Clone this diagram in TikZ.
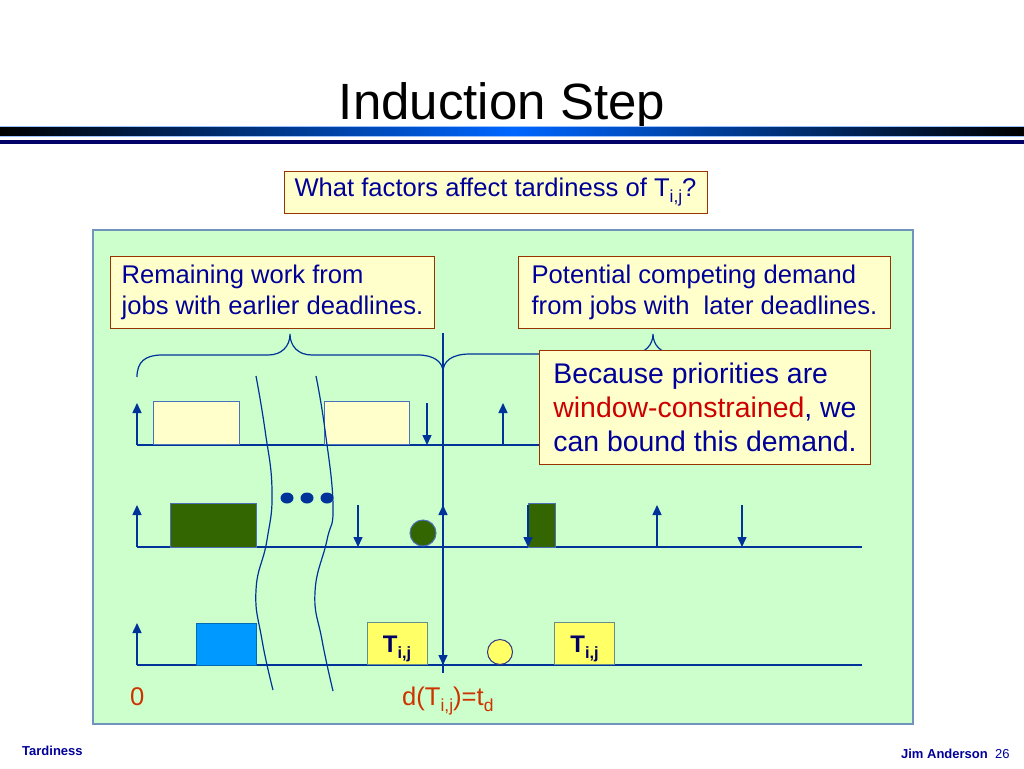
\documentclass[tikz,border=0pt]{standalone}
\usepackage{fontspec}
\setmainfont{Liberation Sans}
\usepackage{graphicx}
\usetikzlibrary{arrows.meta}

\definecolor{panelgreen}{HTML}{CCFFCC}
\definecolor{paneledge}{HTML}{7393BF}
\definecolor{notefill}{HTML}{FFFFCC}
\definecolor{noteedge}{HTML}{993300}
\definecolor{lineblue}{HTML}{003399}
\definecolor{textblue}{HTML}{000099}
\definecolor{textred}{HTML}{CC0000}
\definecolor{labelred}{HTML}{CC3300}
\definecolor{jobgreen}{HTML}{336600}
\definecolor{jobblue}{HTML}{0099FF}
\definecolor{jobyellow}{HTML}{FFFF66}
\definecolor{barblue}{HTML}{0066FF}
\definecolor{barnavy}{HTML}{000066}

\newcommand\sbs[1]{\raisebox{-.25em}{\scalebox{.68}{#1}}}

\begin{document}
\begin{tikzpicture}[x=1pt,y=-1pt,
  note/.style={draw=noteedge,fill=notefill,line width=1pt,text=textblue,align=left,
    inner xsep=11pt,inner ysep=0pt,anchor=north west,font=\fontsize{25.6}{30.7}\selectfont},
  axis/.style={draw=lineblue,line width=1.5pt},
  arr/.style={draw=lineblue,line width=1.5pt,-{Triangle[width=9pt,length=10pt]}},
  wave/.style={draw=lineblue,line width=1.2pt},
  tbox/.style={draw=black!50!teal!60,fill=jobyellow,line width=1pt,anchor=south,
    minimum width=60pt,minimum height=42pt,inner sep=0pt,text=barnavy,
    text height=18pt,text depth=0pt,font=\fontsize{24}{28}\selectfont\bfseries},
  label/.style={text=labelred,inner sep=0pt,anchor=base west,font=\fontsize{25.6}{30}\selectfont}]
\useasboundingbox (0,0) rectangle (1024,768);
\fill[white] (0,0) rectangle (1024,768);

% title
\node[anchor=base,inner sep=0pt,font=\fontsize{51}{60}\selectfont] (title) at (502,119) {Induction Step};
\shade[left color=black,right color=black,middle color=barblue] (0,126.5) rectangle (1024,136);
\path[draw,barblue!40,line width=0.7pt] (0,126.5) -- (1024,126.5);
\path[draw,barblue!40,line width=0.7pt] (0,136) -- (1024,136);
\fill[barnavy] (0,140) rectangle (1024,144.3);

\node[note,anchor=center,align=center,inner sep=0pt,minimum width=423pt,minimum height=42pt]
  (question) at (495.5,192) {What factors affect tardiness of T\sbs{i,j}?};

% panel
\draw[fill=panelgreen,draw=paneledge,line width=2pt] (93,230) rectangle (913,724);

\node[note,minimum width=324pt,minimum height=72pt] (earlier) at (110,256)
  {Remaining work from\\jobs with earlier deadlines.};
\node[note,minimum width=372pt,minimum height=72pt] (later) at (518,256)
  {Potential competing demand\\from jobs with\ \ later deadlines.};

% braces
\draw[wave] (137,377) .. controls (137,362) and (145,355) .. (162,355) -- (268,355)
  .. controls (282,355) and (290,346) .. (290,334) .. controls (290,346) and (298,355) .. (312,355)
  -- (418,355) .. controls (434,355) and (443,362) .. (443,372);
\draw[wave] (443,372) .. controls (443,361) and (452,354) .. (470,354) -- (631,354)
  .. controls (645,354) and (653,345) .. (653,334) .. controls (653,345) and (661,354) .. (675,354)
  -- (836,354) .. controls (854,354) and (863,361) .. (863,372);

% deadline of T_ij
\path[draw,axis] (443,333) -- (443,673);

\newcommand\jobrelease[2]{ \draw[arr] (#1,#2) -- (#1,#2-42); }
\newcommand\jobdeadline[2]{ \draw[arr] (#1,#2-42) -- (#1,#2); }

% top row
\path[draw,axis] (137,445) -- (862,445);
\draw[fill=notefill,draw=lineblue!70,line width=1pt] (153,401) rectangle (239,444);
\draw[fill=notefill,draw=lineblue!70,line width=1pt] (324,401) rectangle (409,444);
\jobrelease{137}{445}
\jobdeadline{427}{445}
\jobrelease{503}{445}

% middle row
\path[draw,axis] (137,547) -- (862,547);
\draw[fill=jobgreen,draw=lineblue!70,line width=1pt] (170,503) rectangle (256,547);
\draw[fill=jobgreen,draw=lineblue!70,line width=1pt] (528,503) rectangle (555,547);
\draw[fill=jobgreen,draw=lineblue!70,line width=1pt] (423,533) circle (13);
\foreach \x in {287,307,327}
  \fill[lineblue] (\x,498) ellipse (6.5 and 5.5);
\jobrelease{137}{547}
\jobdeadline{358}{547}
\jobrelease{443}{547}
\jobdeadline{528}{547}
\jobrelease{657}{547}
\jobdeadline{742}{547}

% bottom row
\path[draw,axis] (137,665) -- (862,665);
\draw[fill=jobblue,draw=jobblue!70!black,line width=1pt] (196,623) rectangle (256,665);
\node[tbox] (tij1) at (397,665) {T\sbs{i,j}};
\node[tbox] (tij2) at (584.5,665) {T\sbs{i,j}};
\draw[fill=jobyellow,draw=barnavy!80,line width=1pt] (500,652) circle (12.5);
\jobrelease{137}{665}
\jobdeadline{443}{665}

% cuts
\draw[wave] plot[smooth,tension=0.8] coordinates {(256,376) (265,430) (272,490) (267,540) (256,590) (262,640) (273,690)};
\draw[wave] plot[smooth,tension=0.8] coordinates {(316,376) (325,430) (333,505) (327,540) (315,592) (322,640) (333,691)};

\node[note,font=\fontsize{28.4}{34}\selectfont,minimum width=331pt,minimum height=114pt] (bound) at (539,350)
  {Because priorities are\\\textcolor{textred}{window-constrained}, we\\can bound this demand.};

\node[label] (zero) at (130,705) {0};
\node[label] (tdline) at (402,705) {d(T\sbs{i,j})=t\sbs{d}};

% footer
\node[anchor=base west,inner sep=0pt,text=textblue,font=\fontsize{13}{15}\selectfont\bfseries] (topic) at (22,755) {Tardiness};
\node[anchor=base east,inner sep=0pt,text=textblue,font=\fontsize{13}{15}\selectfont\bfseries] (author) at (988,758) {Jim Anderson};
\node[anchor=base west,inner sep=0pt,text=textblue,font=\fontsize{13}{15}\selectfont] (page) at (995,758) {26};
\end{tikzpicture}
\end{document}
